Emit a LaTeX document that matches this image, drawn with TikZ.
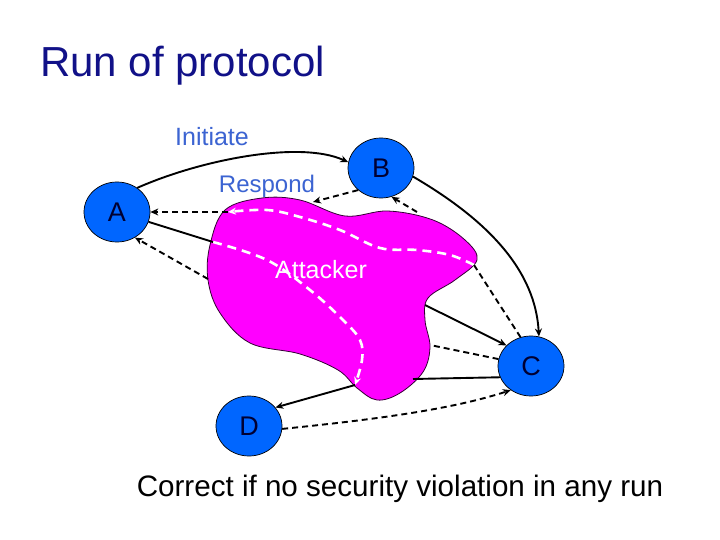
\documentclass[tikz,border=0pt]{standalone}
\usepackage{fontspec}
\setmainfont{Liberation Sans}
\usetikzlibrary{arrows.meta,shapes.geometric}
\definecolor{nodeblue}{RGB}{0,102,255}
\definecolor{titleblue}{RGB}{17,17,136}
\definecolor{lblblue}{RGB}{60,100,210}
\definecolor{blobmag}{RGB}{255,0,255}
\definecolor{letterc}{RGB}{0,0,50}
\tikzset{
  party/.style={ellipse, draw=black, line width=0.7pt, fill=nodeblue, minimum width=66pt, minimum height=60pt, inner sep=0pt, font=\fontsize{27}{27}\selectfont, text=letterc},
  msg/.style={line width=1.9pt, black},
  dmsg/.style={msg, dash pattern=on 6pt off 4pt},
  tip/.style={-{Stealth[length=8pt,width=7pt]}},
  wdash/.style={line width=2.6pt, white, dash pattern=on 9pt off 6pt},
}
\begin{document}
\begin{tikzpicture}[x=1pt,y=-1pt]
\useasboundingbox (0,0) rectangle (720,540);
\fill[white] (0,0) rectangle (720,540);
% title
\node[anchor=base west, inner sep=0pt, text=titleblue, font=\fontsize{42}{42}\selectfont] (title) at (40,77) {Run of protocol};
% attacker blob
\draw[fill=blobmag, draw=black!80!blobmag, line width=0.8pt] plot[smooth cycle, tension=0.6] coordinates {
 (225,210) (262,198) (300,200) (345,216) (388,211) (433,220) (465,240) (477,260)
 (455,280) (428,298) (425,320) (430,347) (423,372) (400,393) (377,400) (357,388)
 (338,370) (300,354) (250,343) (220,313) (208,280) (210,245)};
% named points on the blob
\coordinate (pR) at (313,202);
\coordinate (p1) at (228,212);
\coordinate (p2) at (213,242);
\coordinate (p3) at (208,279);
\coordinate (p4) at (474,265);
\coordinate (p5) at (417,212);
\coordinate (p6) at (425,305);
\coordinate (p7) at (430,345);
\coordinate (p8) at (413,379);
\coordinate (p9) at (355,385);
% white dashed paths through attacker
\draw[wdash, tip] plot[smooth, tension=0.6] coordinates {(p4) (450,255) (417,250) (380,248) (340,230) (300,217) (267,210) (p1)};
\draw[wdash, tip] plot[smooth, tension=0.6] coordinates {(p2) (267,260) (310,290) (343,320) (360,340) (362,360) (p9)};
\node[anchor=base, inner sep=0pt, text=white, font=\fontsize{25}{25}\selectfont] (att) at (321,278) {Attacker};
% parties
\node[party] (A) at (117,212) {A};
\node[party] (B) at (381,168) {B};
\node[party] (C) at (531,366) {C};
\node[party] (D) at (249,426) {D};
% labels
\node[anchor=base, inner sep=0pt, text=lblblue, font=\fontsize{25}{25}\selectfont] (ini) at (212,146) {Initiate};
\node[anchor=base, inner sep=0pt, text=lblblue, font=\fontsize{24}{24}\selectfont] (resp) at (267,193) {Respond};
% connectors
\draw[msg, tip] (A.50) .. controls (200,160) and (300,140) .. (B.170);
\draw[dmsg, tip] (B.224) -- (pR);
\draw[dmsg, tip] (p1) -- (A);
\draw[msg] (A) -- (p2);
\draw[dmsg, tip] (p3) -- (A.-55);
\draw[msg, tip] (B.-15) .. controls (470,210) and (535,260) .. (C.75);
\draw[dmsg] (p4) -- (C.110);
\draw[dmsg, tip] (p5) -- (B.-70);
\draw[msg, tip] (p6) -- (C.140);
\draw[dmsg] (C.168) -- (p7);
\draw[msg] (C.-160) -- (p8);
\draw[msg, tip] (p9) -- (D.35);
\draw[dmsg, tip] (D.-5) .. controls (370,420) and (450,410) .. (C.-130);
% bottom text
\node[anchor=base, inner sep=0pt, font=\fontsize{29.6}{29.6}\selectfont] (note) at (400,496) {Correct if no security violation in any run};
\end{tikzpicture}
\end{document}
